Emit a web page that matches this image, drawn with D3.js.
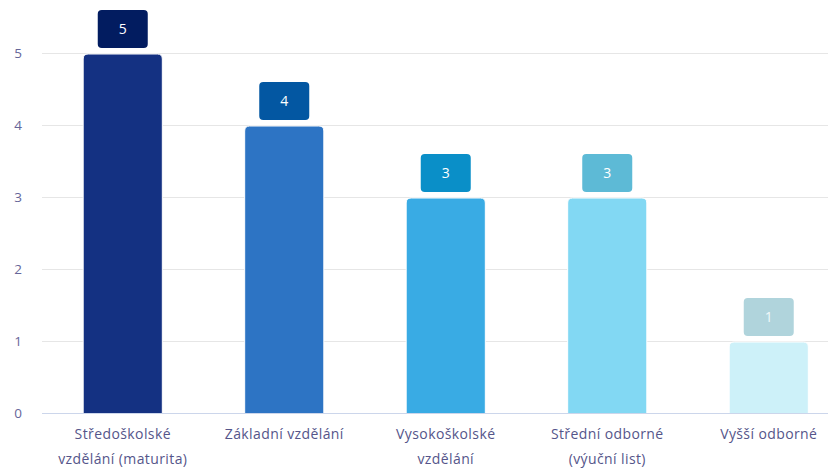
<!DOCTYPE html>
<html>
<head>
<meta charset="utf-8">
<script src="https://cdn.jsdelivr.net/npm/d3@7"></script>
<style>
  body { margin: 0; background: #fff; }
  svg { display: block; font-family: 'Open Sans', 'Noto Sans', sans-serif; }
</style>
</head>
<body>
<div id="chart"></div>
<script>
'use strict'
const categories = [
  ['Středoškolské', 'vzdělání (maturita)'],
  ['Základní vzdělání'],
  ['Vysokoškolské', 'vzdělání'],
  ['Střední odborné', '(výuční list)'],
  ['Vyšší odborné']
]
const values = [5, 4, 3, 3, 1]
const yTicks = [0, 1, 2, 3, 4, 5]
const barColors = ['#143182', '#2d74c4', '#39abe4', '#82d8f3', '#cdf1f9']
const boxColors = ['#021c60', '#0357a2', '#0a8fc8', '#5dbad6', '#b0d4dc']
const boxText = ['#fff', '#fff', '#fff', '#fff', '#f0f8fa']

const width = 828
const height = 468
const margin = { left: 42, top: 53, bottom: 55 }

const svg = d3.select('#chart').append('svg')
  .attr('width', width)
  .attr('height', height)

const x = d3.scaleBand()
  .domain(d3.range(categories.length))
  .range([margin.left, 849.5])
  .paddingInner(0.51)
  .paddingOuter(0.255)

const y = d3.scaleLinear()
  .domain([0, 5])
  .range([height - margin.bottom, margin.top])

// grid
svg.append('g')
  .selectAll('line')
  .data(yTicks.filter(d => d > 0))
  .enter()
  .append('line')
  .attr('x1', margin.left)
  .attr('x2', width)
  .attr('y1', d => y(d) + 0.5)
  .attr('y2', d => y(d) + 0.5)
  .attr('stroke', '#e6e6e6')

svg.append('g')
  .selectAll('text')
  .data(yTicks)
  .enter()
  .append('text')
  .attr('x', 18)
  .attr('y', d => y(d) + 5)
  .attr('text-anchor', 'middle')
  .attr('fill', '#666699')
  .style('font-size', '13.5px')
  .text(d => d)

// bars with rounded top, white 1px border
const bw = x.bandwidth()
const r = 5
svg.append('g')
  .selectAll('path')
  .data(values)
  .enter()
  .append('path')
  .attr('fill', (d, i) => barColors[i])
  .attr('stroke', '#fff')
  .attr('stroke-width', 1)
  .attr('d', (d, i) => {
    const x0 = x(i), y0 = y(d) + 1, y1 = y(0) + 1
    return `M${x0},${y1}V${y0 + r}Q${x0},${y0} ${x0 + r},${y0}H${x0 + bw - r}Q${x0 + bw},${y0} ${x0 + bw},${y0 + r}V${y1}Z`
  })

// axis line
svg.append('line')
  .attr('x1', margin.left)
  .attr('x2', width)
  .attr('y1', y(0) + 0.5)
  .attr('y2', y(0) + 0.5)
  .attr('stroke', '#ccd6eb')

// value boxes
const boxW = 50, boxH = 38
const boxes = svg.append('g')
  .selectAll('g')
  .data(values)
  .enter()
  .append('g')
  .attr('transform', (d, i) => `translate(${x(i) + bw / 2},${y(d) - 5})`)

boxes.append('rect')
  .attr('x', -boxW / 2)
  .attr('y', -boxH)
  .attr('width', boxW)
  .attr('height', boxH)
  .attr('rx', 4)
  .attr('fill', (d, i) => boxColors[i])

boxes.append('text')
  .attr('y', -boxH / 2 + 5)
  .attr('text-anchor', 'middle')
  .attr('fill', (d, i) => boxText[i])
  .style('font-size', '14px')
  .text(d => d)

// category labels
const labels = svg.append('g')
  .selectAll('text')
  .data(categories)
  .enter()
  .append('text')
  .attr('text-anchor', 'middle')
  .attr('fill', '#55558a')
  .style('font-size', '14px')
  .style('letter-spacing', '0.4px')
  .attr('transform', (d, i) => `translate(${x(i) + bw / 2},${y(0) + 26})`)

labels.selectAll('tspan')
  .data(d => d)
  .enter()
  .append('tspan')
  .attr('x', 0)
  .attr('dy', (d, i) => i === 0 ? 0 : 25)
  .text(d => d)
</script>
</body>
</html>
